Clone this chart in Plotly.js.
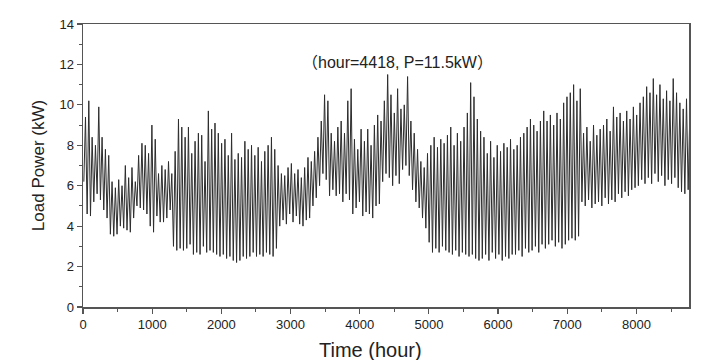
<!DOCTYPE html>
<html>
<head>
<meta charset="utf-8">
<script src="https://cdn.plot.ly/plotly-3.0.1.min.js"></script>
<style>html,body{margin:0;padding:0;background:#fff;}#chart{width:723px;height:360px;}</style>
</head>
<body>
<div id="chart"></div>
<script>
// Estimated load envelope, one trough and one peak per 48-hour block (kW)
const blockHours = 48;
const troughKW = [
  6.2,4.6,4.5,5.2,5.6,5.3,4.8,4.4,3.6,3.5,
  3.6,4.0,3.9,3.8,3.7,4.4,5.0,4.9,4.8,4.6,
  4.0,3.7,4.5,4.2,4.2,4.4,4.8,3.0,2.8,2.9,
  2.8,2.9,3.1,2.6,2.7,2.6,3.0,2.7,2.8,2.7,
  2.6,2.5,2.6,2.4,2.5,2.3,2.2,2.3,2.5,2.4,
  2.5,2.7,2.5,2.6,2.5,2.7,2.6,2.5,2.9,4.0,
  4.3,4.1,4.6,4.2,4.5,4.1,4.0,4.3,4.4,5.0,
  5.4,6.0,6.6,6.3,5.5,5.8,5.5,5.6,5.2,5.6,
  5.3,4.6,4.9,5.2,4.5,4.7,4.6,4.4,5.0,5.1,
  6.2,6.6,6.4,6.0,6.5,6.1,6.8,7.0,6.5,5.8,
  5.2,4.9,4.4,3.9,3.2,2.7,2.9,2.7,3.0,2.8,
  2.7,2.6,2.8,2.5,2.7,2.6,2.5,2.6,2.4,2.3,
  2.4,2.6,2.3,2.7,2.4,2.6,2.3,2.5,2.4,2.6,
  2.6,2.8,2.5,2.9,2.7,2.8,3.0,2.7,3.1,2.9,
  3.1,3.3,3.0,3.2,2.9,3.1,3.3,3.4,3.3,3.5,
  5.2,5.0,5.3,4.9,5.1,5.2,5.0,5.4,5.1,5.3,
  5.2,5.6,5.4,5.7,5.5,5.8,5.9,6.0,6.3,6.1,
  6.4,6.1,6.6,6.2,6.5,6.0,6.3,6.1,6.4,5.9,
  5.7,5.6,5.8
];
const peakKW = [
  9.4,10.2,8.4,8.0,9.9,8.4,7.8,7.5,6.2,5.9,
  6.3,6.0,7.0,6.4,6.9,6.2,7.5,8.1,8.0,7.6,
  9.0,8.3,6.6,7.0,6.8,7.2,6.6,7.7,9.3,8.9,
  8.4,8.9,7.6,8.2,8.6,8.5,7.2,9.7,8.8,9.1,
  8.6,8.1,8.3,7.5,8.6,7.3,7.6,7.4,8.2,7.8,
  8.0,7.5,7.9,7.2,7.7,8.0,8.4,7.8,7.0,6.6,
  6.5,6.9,7.1,6.6,6.8,6.4,6.9,7.4,7.2,7.7,
  8.4,9.2,10.5,10.2,8.6,8.2,8.9,9.2,8.6,10.2,
  10.8,8.3,7.8,8.8,8.2,8.8,8.0,9.0,9.5,9.2,
  10.2,11.5,10.5,9.6,10.8,9.8,10.0,11.4,9.2,8.6,
  7.8,7.2,6.9,7.6,8.0,8.4,7.9,8.3,8.1,8.5,
  8.9,8.0,8.6,8.2,8.9,9.6,11.1,10.4,9.3,8.7,
  8.4,7.6,8.2,7.4,8.0,7.7,8.1,7.9,8.3,7.8,
  8.0,8.4,8.6,8.9,9.3,9.0,8.7,9.2,9.7,9.2,
  9.5,9.0,9.6,9.3,10.1,10.4,10.6,11.0,10.2,10.8,
  8.6,8.9,8.2,9.0,8.5,8.8,9.0,9.3,8.7,9.9,
  9.4,9.6,9.2,9.7,9.3,9.9,9.5,10.1,10.4,10.9,
  10.6,11.3,10.5,11.0,10.3,10.7,10.2,11.3,10.6,10.1,
  9.8,10.3,9.6
];
const xTickVals = [0,1000,2000,3000,4000,5000,6000,7000,8000];
const yTickVals = [0,2,4,6,8,10,12,14];
const peakNote = {hour: 4418, power: 11.5};

// Build hourly trace: trough then peak within each block
const hours = [], power = [];
for (let i = 0; i < troughKW.length; i++) {
  hours.push(i * blockHours + 12); power.push(troughKW[i]);
  hours.push(i * blockHours + 36); power.push(peakKW[i]);
}

const fontFam = 'Liberation Sans, Arial, sans-serif';
const axisCommon = {
  showline: true, mirror: true, linecolor: '#555', linewidth: 1.5,
  ticks: 'outside', ticklen: 5, tickwidth: 1.2, tickcolor: '#555',
  showgrid: false, zeroline: false,
  tickfont: {family: fontFam, size: 13, color: '#222'}
};

const layout = {
  width: 723, height: 360,
  margin: {l: 83, r: 34, t: 24, b: 53},
  paper_bgcolor: '#fff', plot_bgcolor: '#fff',
  showlegend: false,
  xaxis: Object.assign({}, axisCommon, {
    range: [0, 8760], tickvals: xTickVals, ticktext: xTickVals.map(String),
    minor: {dtick: 500, ticks: 'outside', ticklen: 3, tickcolor: '#555', tickwidth: 1}
  }),
  yaxis: Object.assign({}, axisCommon, {
    range: [0, 14], tickvals: yTickVals, ticktext: yTickVals.map(String),
    minor: {dtick: 1, ticks: 'outside', ticklen: 3, tickcolor: '#555', tickwidth: 1},
    title: {text: 'Load Power (kW)', standoff: 10, font: {family: fontFam, size: 17, color: '#222'}}
  }),
  annotations: [{
    x: 4540, y: 12.1, xref: 'x', yref: 'y', showarrow: false,
    text: '（hour=' + peakNote.hour + ', P=' + peakNote.power + 'kW）',
    font: {family: 'Liberation Sans, Arial, Noto Sans CJK SC, sans-serif', size: 16, color: '#222'}
  }, {
    x: 0.475, y: -0.152, xref: 'paper', yref: 'paper', showarrow: false,
    xanchor: 'center', yanchor: 'middle',
    text: 'Time (hour)',
    font: {family: fontFam, size: 20, color: '#222'}
  }]
};

Plotly.newPlot('chart', [{
  type: 'scatter', mode: 'lines', x: hours, y: power,
  line: {color: 'rgb(45,45,45)', width: 1},
  hoverinfo: 'skip'
}], layout, {staticPlot: true});
</script>
</body>
</html>
